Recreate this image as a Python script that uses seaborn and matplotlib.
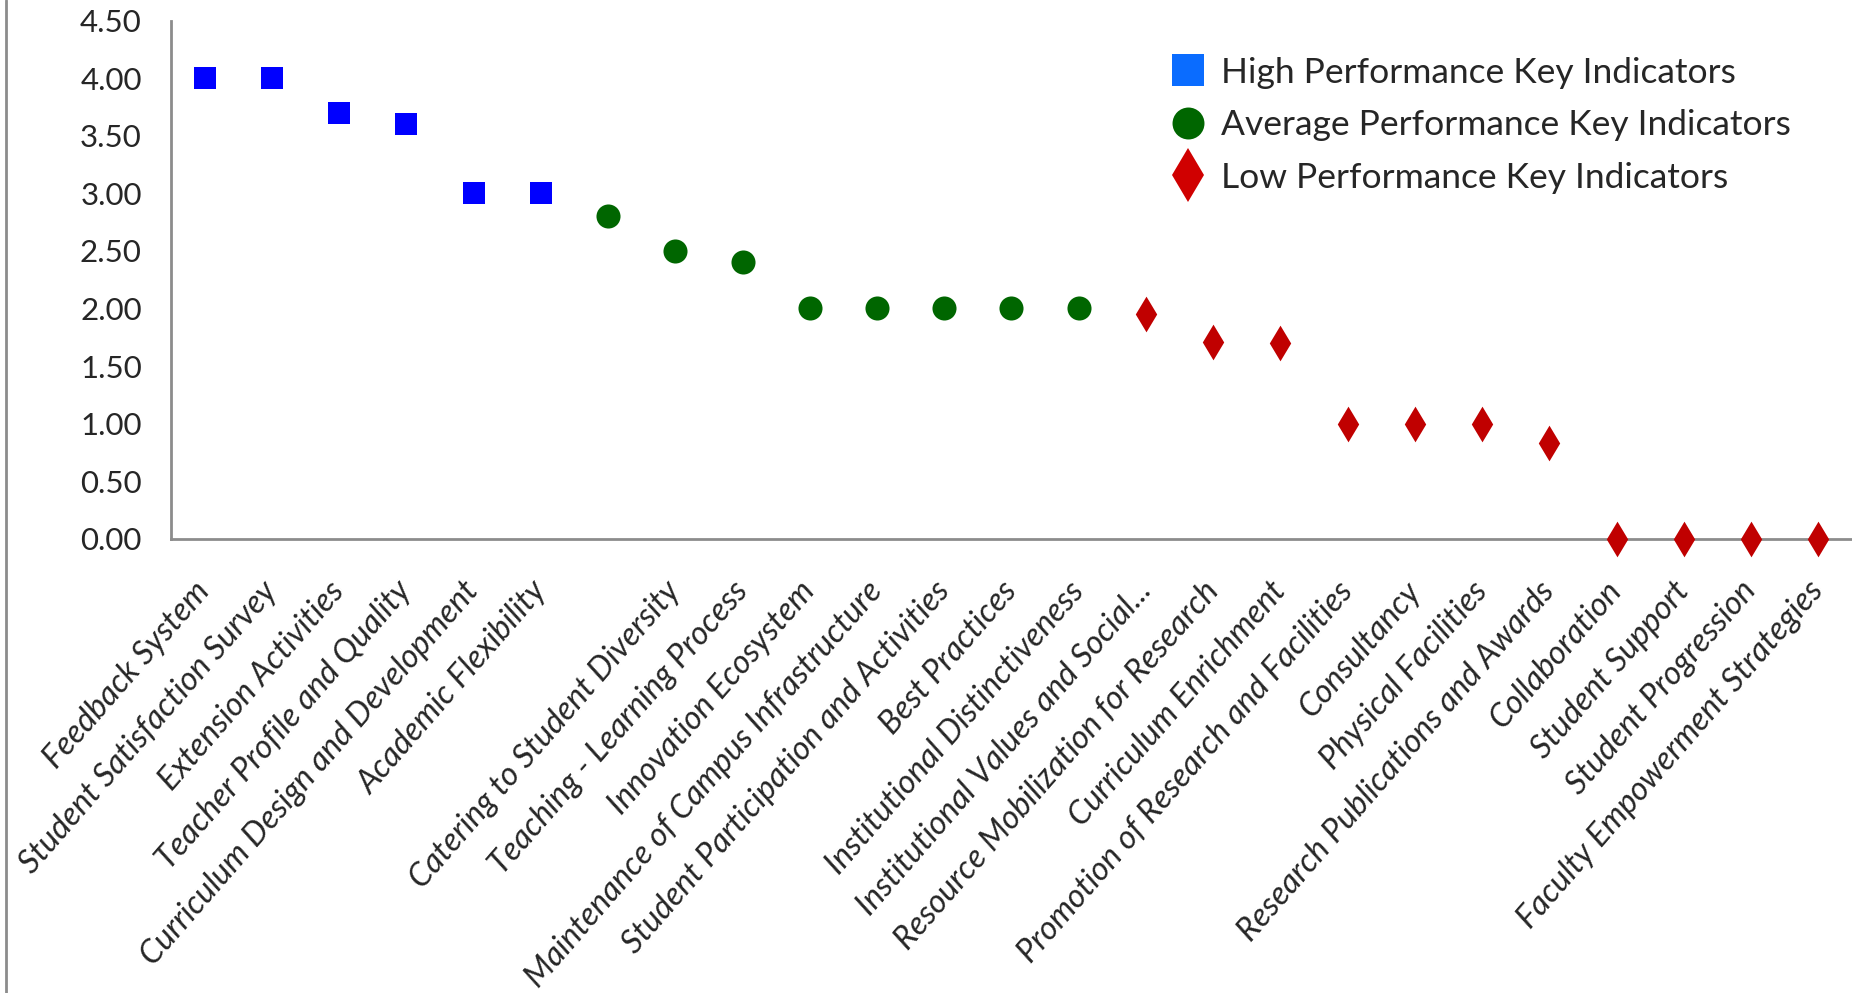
#!/usr/bin/env python3
# -*- coding: utf-8 -*-
"""Key indicator scores grouped by performance level (high / average / low)."""
import matplotlib
matplotlib.use("Agg")
import matplotlib.pyplot as plt
from matplotlib.lines import Line2D
import pandas as pd
import seaborn as sns

INDICATORS = [
    "Feedback System", "Student Satisfaction Survey", "Extension Activities",
    "Teacher Profile and Quality", "Curriculum Design and Development",
    "Academic Flexibility", "",
    "Catering to Student Diversity", "Teaching - Learning Process",
    "Innovation Ecosystem", "Maintenance of Campus Infrastructure",
    "Student Participation and Activities", "Best Practices",
    "Institutional Distinctiveness", "Institutional Values and Social...",
    "Resource Mobilization for Research", "Curriculum Enrichment",
    "Promotion of Research and Facilities", "Consultancy", "Physical Facilities",
    "Research Publications and Awards", "Collaboration", "Student Support",
    "Student Progression", "Faculty Empowerment Strategies",
]
SCORES = [4.0, 4.0, 3.7, 3.6, 3.0, 3.0, 2.8, 2.5, 2.4, 2.0, 2.0, 2.0, 2.0, 2.0,
          1.95, 1.71, 1.7, 1.0, 1.0, 1.0, 0.83, 0.0, 0.0, 0.0, 0.0]
GROUPS = ["High"] * 6 + ["Average"] * 8 + ["Low"] * 11

LEGEND_LABELS = {
    "High": "High Performance Key Indicators",
    "Average": "Average Performance Key Indicators",
    "Low": "Low Performance Key Indicators",
}
PALETTE = {"High": "#0000FF", "Average": "#006600", "Low": "#C00000"}
LEGEND_COLORS = {"High": "#0A6CFF", "Average": "#006600", "Low": "#D00000"}
MARKERS = {"High": "s", "Average": "o", "Low": "d"}
SIZES = {"High": 250, "Average": 300, "Low": 330}

FONT = ["Lato", "DejaVu Sans"]


def main() -> None:
    df = pd.DataFrame({"pos": range(len(SCORES)), "score": SCORES, "group": GROUPS})

    sns.set_style("white")
    plt.rcParams["font.family"] = FONT

    fig = plt.figure(figsize=(18.52, 9.93), dpi=100)
    ax = fig.add_axes([0.0923, 0.4576, 0.9077, 0.5214])

    for g in ["High", "Average", "Low"]:
        sub = df[df["group"] == g]
        sns.scatterplot(data=sub, x="pos", y="score", color=PALETTE[g],
                        marker=MARKERS[g], s=SIZES[g], linewidth=0,
                        ax=ax, legend=False, clip_on=False, zorder=3)

    ax.set_xlim(-0.5, len(SCORES) - 0.5)
    ax.set_ylim(0, 4.5)
    ax.set_yticks([i * 0.5 for i in range(10)])
    ax.set_yticklabels([f"{i * 0.5:.2f}" for i in range(10)], fontsize=22.5)
    ax.set_xticks(range(len(INDICATORS)))
    ax.set_xticklabels(INDICATORS, rotation=49, ha="right", va="center",
                       rotation_mode="anchor", fontsize=23.5, style="italic")
    ax.tick_params(axis="y", length=0, pad=21)
    ax.tick_params(axis="x", length=0, pad=34)
    ax.set_xlabel("")
    ax.set_ylabel("")

    for side in ["top", "right"]:
        ax.spines[side].set_visible(False)
    for side in ["left", "bottom"]:
        ax.spines[side].set_color("#8C8C8C")
        ax.spines[side].set_linewidth(2)

    # outer chart-area border on the far left
    fig.add_artist(Line2D([0.0035, 0.0035], [0, 1], transform=fig.transFigure,
                          color="#8C8C8C", linewidth=2))

    handles = [Line2D([], [], linestyle="none", marker=MARKERS[g],
                      color=LEGEND_COLORS[g], markeredgewidth=0,
                      markersize=23 if g != "Low" else 27)
               for g in ["High", "Average", "Low"]]
    ax.legend(handles, [LEGEND_LABELS[g] for g in ["High", "Average", "Low"]],
              loc="upper left", bbox_to_anchor=(0.632, 0.943),
              bbox_transform=fig.transFigure, frameon=False, fontsize=25.5,
              handlelength=1.0, handletextpad=0.42, labelspacing=0.58,
              borderpad=0, borderaxespad=0)

    fig.savefig("out.png", dpi=100)
    plt.close(fig)


if __name__ == "__main__":
    main()
